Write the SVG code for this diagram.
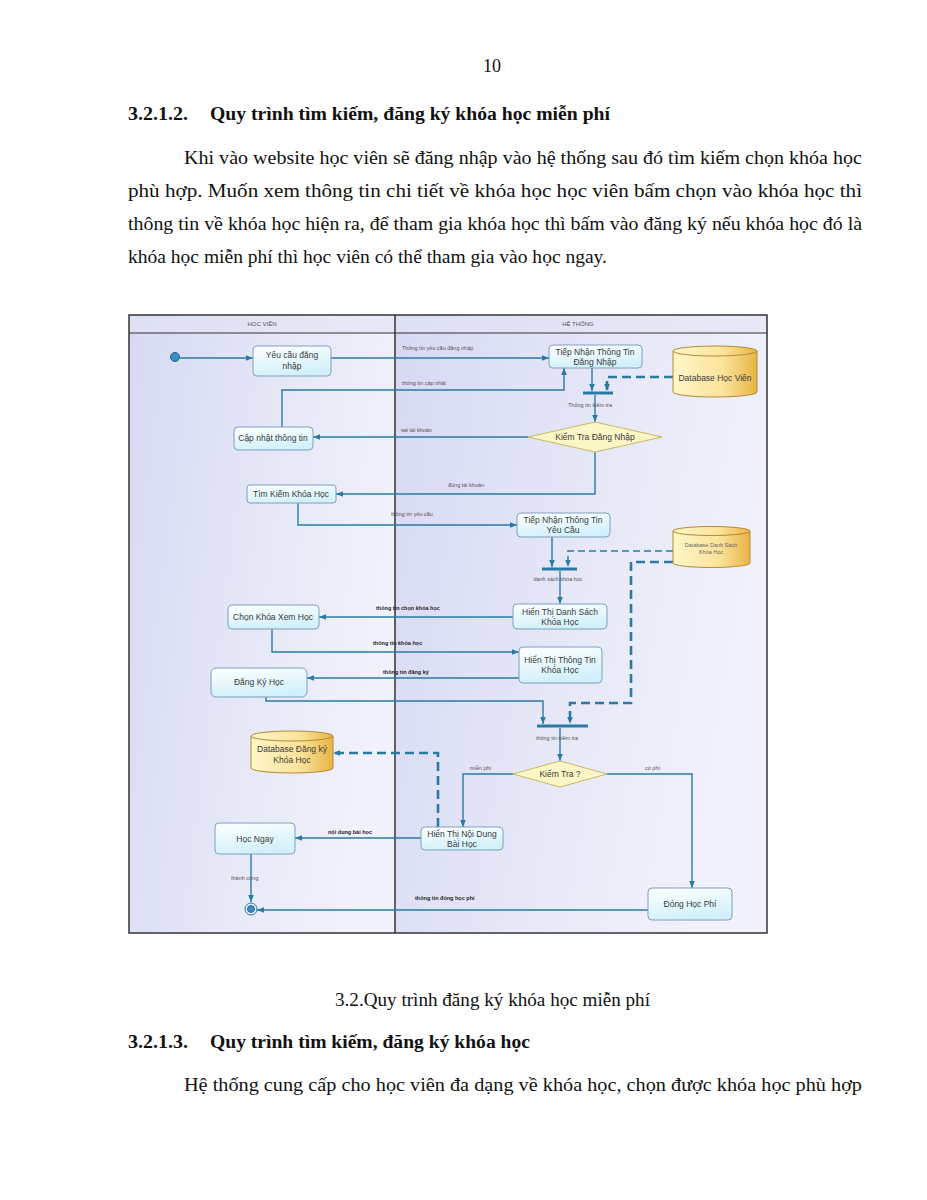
<svg xmlns="http://www.w3.org/2000/svg" width="927" height="1200" viewBox="0 0 927 1200">
<defs>
<linearGradient id="lane" x1="0" y1="0" x2="1" y2="0.3">
<stop offset="0" stop-color="#d6d9f2"/>
<stop offset="0.6" stop-color="#e7e9f8"/>
<stop offset="1" stop-color="#f0f1fa"/>
</linearGradient>
<linearGradient id="box" x1="0" y1="0" x2="0.3" y2="1">
<stop offset="0" stop-color="#ffffff"/>
<stop offset="1" stop-color="#d2f1fa"/>
</linearGradient>
<linearGradient id="db" x1="0" y1="0" x2="1" y2="0">
<stop offset="0" stop-color="#fff6c8"/>
<stop offset="0.6" stop-color="#fbe39a"/>
<stop offset="1" stop-color="#e8b445"/>
</linearGradient>
<marker id="arr" viewBox="0 0 10 10" refX="10" refY="5" markerWidth="7" markerHeight="7" markerUnits="userSpaceOnUse" orient="auto">
<path d="M0,1 L10,5 L0,9 z" fill="#2b7aa6"/>
</marker>
</defs>
<style>
.page{font-family:"Liberation Serif","Times New Roman",serif;fill:#111}
.pb{font-weight:bold}
.nt{font-family:"Liberation Sans",Arial,sans-serif;font-size:8.5px;fill:#3a3a3a;text-anchor:middle}
.ns{font-family:"Liberation Sans",Arial,sans-serif;font-size:5.5px;fill:#666;text-anchor:middle}
.lb{font-family:"Liberation Sans",Arial,sans-serif;font-size:5.5px;fill:#555}
.lbb{font-family:"Liberation Sans",Arial,sans-serif;font-size:5.5px;fill:#222;font-weight:bold}
.hd{font-family:"Liberation Sans",Arial,sans-serif;font-size:6px;fill:#555;text-anchor:middle}
.bx{fill:url(#box);stroke:#7f9fbf;stroke-width:1}
.dm{fill:#fbf6c6;stroke:#c8b968;stroke-width:1}
.cy{fill:url(#db);stroke:#b48a34;stroke-width:1}
.c{fill:none;stroke:#2b7aa6;stroke-width:1.4;marker-end:url(#arr)}
.dt{fill:none;stroke:#2b7aa6;stroke-width:2.6;stroke-dasharray:9,5;marker-end:url(#arr)}
.dtt{fill:none;stroke:#2b7aa6;stroke-width:1.4;stroke-dasharray:7,4;marker-end:url(#arr)}
.bar{stroke:#2b7aa6;stroke-width:3}
</style>
<rect width="927" height="1200" fill="#ffffff"/>
<!-- page text -->
<text class="page" x="492" y="72" font-size="18" text-anchor="middle">10</text>
<text class="page pb" x="128" y="120" font-size="18.5" textLength="60" lengthAdjust="spacingAndGlyphs">3.2.1.2.</text>
<text class="page pb" x="210" y="120" font-size="18.5" textLength="400" lengthAdjust="spacingAndGlyphs">Quy trình tìm kiếm, đăng ký khóa học miễn phí</text>
<text class="page" x="184" y="164" font-size="19.5" textLength="678" lengthAdjust="spacingAndGlyphs">Khi vào website học viên sẽ đăng nhập vào hệ thống sau đó tìm kiếm chọn khóa học</text>
<text class="page" x="128" y="197" font-size="19.5" textLength="734" lengthAdjust="spacingAndGlyphs">phù hợp. Muốn xem thông tin chi tiết về khóa học học viên bấm chọn vào khóa học thì</text>
<text class="page" x="128" y="230" font-size="19.5" textLength="734" lengthAdjust="spacingAndGlyphs">thông tin về khóa học hiện ra, để tham gia khóa học thì bấm vào đăng ký nếu khóa học đó là</text>
<text class="page" x="128" y="263" font-size="19.5" textLength="479" lengthAdjust="spacingAndGlyphs">khóa học miễn phí thì học viên có thể tham gia vào học ngay.</text>
<text class="page" x="335" y="1006" font-size="19.5" textLength="315" lengthAdjust="spacingAndGlyphs">3.2.Quy trình đăng ký khóa học miễn phí</text>
<text class="page pb" x="128" y="1048" font-size="18.5" textLength="60" lengthAdjust="spacingAndGlyphs">3.2.1.3.</text>
<text class="page pb" x="210" y="1048" font-size="18.5" textLength="320" lengthAdjust="spacingAndGlyphs">Quy trình tìm kiếm, đăng ký khóa học</text>
<text class="page" x="184" y="1091" font-size="19.5" textLength="678" lengthAdjust="spacingAndGlyphs">Hệ thống cung cấp cho học viên đa dạng về khóa học, chọn được khóa học phù hợp</text>
<!-- swimlanes -->
<g id="lanes">
<rect x="129" y="315" width="266" height="618" fill="url(#lane)"/>
<rect x="395" y="315" width="372" height="618" fill="url(#lane)"/>
<rect x="129" y="315" width="638" height="18" fill="#e2e4f5" opacity="0.6"/>
<line x1="129" y1="333" x2="767" y2="333" stroke="#333" stroke-width="1.2"/>
<line x1="395" y1="315" x2="395" y2="933" stroke="#333" stroke-width="1.5"/>
<rect x="129" y="315" width="638" height="618" fill="none" stroke="#333" stroke-width="1.5"/>
<text class="hd" x="262" y="326">HỌC VIÊN</text>
<text class="hd" x="578" y="326">HỆ THỐNG</text>
</g>
<!-- connectors -->
<g id="connectors">
<path class="c" d="M180,358 H253"/>
<path class="c" d="M331,358 H549"/>
<path class="c" d="M282,427 V390 H564 V368"/>
<path class="c" d="M592,368 V391"/>
<path class="dt" d="M673,377 H607 V391"/>
<path class="c" d="M595,395 V422"/>
<path class="c" d="M528,437 H313"/>
<path class="c" d="M595,452 V494 H336"/>
<path class="c" d="M298,503 V525 H517"/>
<path class="c" d="M552,537 V567"/>
<path class="dtt" d="M673,551 H568 V567"/>
<path class="dt" d="M673,562 H631 V703 H570 V724"/>
<path class="c" d="M560,571 V604"/>
<path class="c" d="M513,617 H319"/>
<path class="c" d="M272,629 V652 H519"/>
<path class="c" d="M519,678 H307"/>
<path class="c" d="M266,697 V701 H543 V724"/>
<path class="c" d="M560,728 V761"/>
<path class="c" d="M513,774 H463 V827"/>
<path class="c" d="M607,774 H692 V888"/>
<path class="dt" d="M438,827 V753 H333"/>
<path class="c" d="M421,838 H295"/>
<path class="c" d="M251,854 V902"/>
<path class="c" d="M648,910 H257"/>
<line class="bar" x1="583" y1="393" x2="613" y2="393"/>
<line class="bar" x1="542" y1="569" x2="577" y2="569"/>
<line class="bar" x1="537" y1="726" x2="588" y2="726"/>
<text class="lb" x="402" y="350">Thông tin yêu cầu đăng nhập</text>
<text class="lb" x="402" y="385">thông tin cập nhật</text>
<text class="lb" x="590" y="407" text-anchor="middle">Thông tin kiểm tra</text>
<text class="lb" x="401" y="432">sai tài khoản</text>
<text class="lb" x="448" y="487">đúng tài khoản</text>
<text class="lb" x="391" y="516">thông tin yêu cầu</text>
<text class="lb" x="558" y="581" text-anchor="middle">danh sách khóa học</text>
<text class="lbb" x="376" y="610">thông tin chọn khóa học</text>
<text class="lbb" x="373" y="645">thông tin khóa học</text>
<text class="lbb" x="383" y="674">thông tin đăng ký</text>
<text class="lb" x="557" y="740" text-anchor="middle">thông tin kiểm tra</text>
<text class="lb" x="470" y="770">miễn phí</text>
<text class="lb" x="645" y="770">có phí</text>
<text class="lbb" x="328" y="834">nội dung bài học</text>
<text class="lb" x="231" y="880">thành công</text>
<text class="lbb" x="415" y="900">thông tin đóng học phí</text>
</g>
<!-- nodes -->
<g id="start"><circle cx="175" cy="357" r="4.5" fill="#3a8cc4" stroke="#1f5f8f" stroke-width="1"/></g>
<g id="yeucau"><rect class="bx" x="253" y="346" width="78" height="30" rx="4"/><text class="nt" x="292" y="358">Yêu cầu đăng</text><text class="nt" x="292" y="369">nhập</text></g>
<g id="tiepnhan-dn"><rect class="bx" x="549" y="345" width="93" height="23" rx="4"/><text class="nt" x="595" y="355">Tiếp Nhận Thông Tin</text><text class="nt" x="595" y="365">Đăng Nhập</text></g>
<g id="db-hocvien"><path class="cy" d="M673,351 A42,5 0 0 1 757,351 V392 A42,5 0 0 1 673,392 Z"/><path d="M673,351 A42,5 0 0 0 757,351" fill="none" stroke="#b48a34" stroke-width="1"/><text class="nt" x="715" y="381">Database Học Viên</text></g>
<g id="kiemtra-dn"><polygon class="dm" points="528,437 595,422 662,437 595,452"/><text class="nt" x="595" y="440">Kiểm Tra Đăng Nhập</text></g>
<g id="capnhat"><rect class="bx" x="234" y="427" width="79" height="23" rx="4"/><text class="nt" x="273" y="441">Cập nhật thông tin</text></g>
<g id="timkiem"><rect class="bx" x="247" y="485" width="89" height="18" rx="3"/><text class="nt" x="291" y="497">Tìm Kiếm Khóa Học</text></g>
<g id="tiepnhan-yc"><rect class="bx" x="517" y="513" width="93" height="24" rx="4"/><text class="nt" x="563" y="523">Tiếp Nhận Thông Tin</text><text class="nt" x="563" y="533">Yêu Cầu</text></g>
<g id="db-danhsach"><path class="cy" d="M673,531 A38.5,4.5 0 0 1 750,531 V563 A38.5,4.5 0 0 1 673,563 Z"/><path d="M673,531 A38.5,4.5 0 0 0 750,531" fill="none" stroke="#b48a34" stroke-width="1"/><text class="ns" x="711" y="547">Database Danh Sách</text><text class="ns" x="711" y="554">Khóa Học</text></g>
<g id="hienthi-ds"><rect class="bx" x="513" y="604" width="94" height="25" rx="4"/><text class="nt" x="560" y="615">Hiển Thị Danh Sách</text><text class="nt" x="560" y="625">Khóa Học</text></g>
<g id="chonkhoa"><rect class="bx" x="228" y="605" width="91" height="24" rx="4"/><text class="nt" x="273" y="620">Chọn Khóa Xem Học</text></g>
<g id="hienthi-tt"><rect class="bx" x="519" y="647" width="83" height="36" rx="4"/><text class="nt" x="560" y="663">Hiển Thị Thông Tin</text><text class="nt" x="560" y="673">Khóa Học</text></g>
<g id="dangky"><rect class="bx" x="211" y="668" width="96" height="29" rx="5"/><text class="nt" x="259" y="685">Đăng Ký Học</text></g>
<g id="db-dangky"><path class="cy" d="M251,736 A41,5 0 0 1 333,736 V768 A41,5 0 0 1 251,768 Z"/><path d="M251,736 A41,5 0 0 0 333,736" fill="none" stroke="#b48a34" stroke-width="1"/><text class="nt" x="292" y="752">Database Đăng ký</text><text class="nt" x="292" y="763">Khóa Học</text></g>
<g id="kiemtra"><polygon class="dm" points="513,774 560,761 607,774 560,787"/><text class="nt" x="560" y="777">Kiểm Tra ?</text></g>
<g id="hienthi-nd"><rect class="bx" x="421" y="827" width="82" height="23" rx="4"/><text class="nt" x="462" y="837">Hiển Thị Nội Dung</text><text class="nt" x="462" y="847">Bài Học</text></g>
<g id="hocngay"><rect class="bx" x="215" y="823" width="80" height="31" rx="4"/><text class="nt" x="255" y="842">Học Ngay</text></g>
<g id="donghocphi"><rect class="bx" x="648" y="888" width="84" height="32" rx="4"/><text class="nt" x="690" y="907">Đóng Học Phí</text></g>
<g id="end"><circle cx="251" cy="909" r="6" fill="none" stroke="#2b7aa6" stroke-width="1"/><circle cx="251" cy="909" r="3.5" fill="#3a8cc4" stroke="#1f5f8f" stroke-width="0.8"/></g>
</svg>
